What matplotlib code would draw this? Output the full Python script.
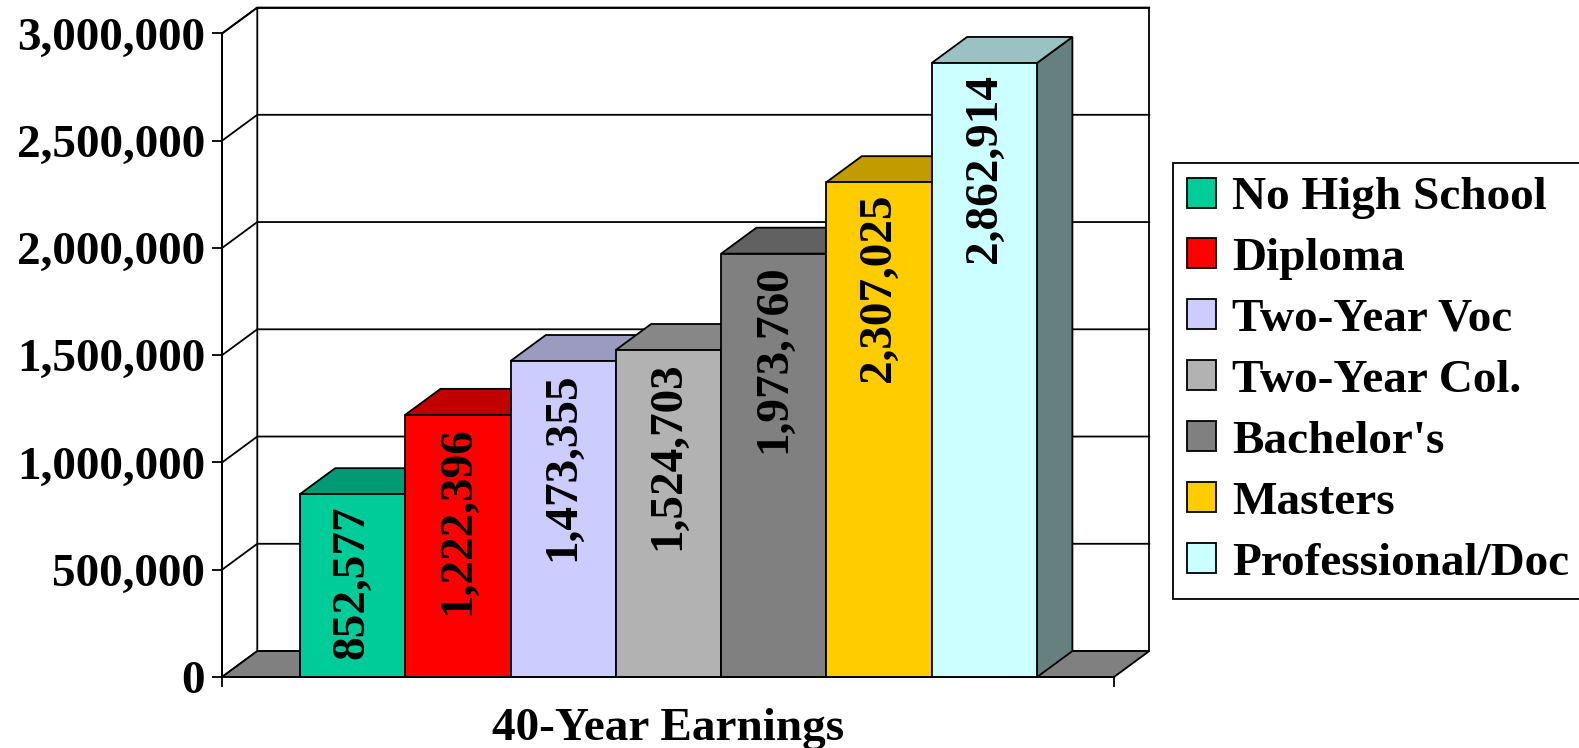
import matplotlib
matplotlib.use("Agg")
import matplotlib.pyplot as plt
from matplotlib.patches import Polygon, Rectangle, Patch
from matplotlib.ticker import FuncFormatter

# data
categories = ["No High School", "Diploma", "Two-Year Voc", "Two-Year Col.",
              "Bachelor's", "Masters", "Professional/Doc"]
earnings = [852577, 1222396, 1473355, 1524703, 1973760, 2307025, 2862914]
colors = ["#00CC99", "#FF0000", "#CCCCFF", "#B2B2B2", "#808080", "#FFCC00", "#CCFFFF"]
yticks = [0, 500000, 1000000, 1500000, 2000000, 2500000, 3000000]
xlabel = "40-Year Earnings"

plt.rcParams["font.family"] = ["Liberation Serif", "DejaVu Serif"]
plt.rcParams["font.weight"] = "bold"

W, H = 1579, 748
fig = plt.figure(figsize=(W / 100, H / 100), dpi=100)
ax = fig.add_axes([222 / W, 71 / H, 892 / W, 643.5 / H])

xmin, xmax = -0.74, 7.73
ymax = 3000000
DX, DY = 0.335, 121000  # depth of the 3-D box, in data units
lw = 1.3


def shade(c, f):
    r, g, b = matplotlib.colors.to_rgb(c)
    return (r * f, g * f, b * f)


# back wall, left wall, floor
ax.add_patch(Rectangle((xmin + DX, DY), xmax - xmin, ymax, facecolor="white",
                       edgecolor="black", lw=lw, clip_on=False, zorder=1))
ax.add_patch(Polygon([(xmin, 0), (xmin + DX, DY), (xmin + DX, ymax + DY), (xmin, ymax)],
                     facecolor="white", edgecolor="black", lw=lw, clip_on=False, zorder=1))
ax.add_patch(Polygon([(xmin, 0), (xmax, 0), (xmax + DX, DY), (xmin + DX, DY)],
                     facecolor="#808080", edgecolor="black", lw=lw, clip_on=False, zorder=2))

# gridlines on back and side walls
for t in yticks[1:]:
    ax.plot([xmin, xmin + DX, xmax + DX], [t, t + DY, t + DY], color="black",
            lw=lw, clip_on=False, zorder=2)

# bars
for i, (v, c) in enumerate(zip(earnings, colors)):
    z = 3 + i
    ax.add_patch(Polygon([(i + 1, 0), (i + 1 + DX, DY), (i + 1 + DX, v + DY), (i + 1, v)],
                         facecolor=shade(c, 0.5), edgecolor="black", lw=lw,
                         clip_on=False, zorder=z))
    ax.add_patch(Polygon([(i, v), (i + 1, v), (i + 1 + DX, v + DY), (i + DX, v + DY)],
                         facecolor=shade(c, 0.76), edgecolor="black", lw=lw,
                         clip_on=False, zorder=z))
    ax.add_patch(Rectangle((i, 0), 1, v, facecolor=c, edgecolor="black", lw=lw,
                           clip_on=False, zorder=z))
    ax.annotate(f"{v:,}", (i + 0.5, v), xytext=(0, -8), textcoords="offset points",
                rotation=90, ha="center", va="top", fontsize=34, fontweight="bold",
                zorder=20)

ax.set_xlim(xmin, xmax)
ax.set_ylim(0, ymax)
ax.set_yticks(yticks)
ax.yaxis.set_major_formatter(FuncFormatter(lambda v, p: f"{int(v):,}"))
ax.set_xticks([xmin, xmax])
ax.set_xticklabels(["", ""])
ax.tick_params(direction="out", length=7.2, width=lw, labelsize=34, pad=5)
for s in ["top", "right"]:
    ax.spines[s].set_visible(False)
for s in ["left", "bottom"]:
    ax.spines[s].set_linewidth(lw)
    ax.spines[s].set_zorder(30)
ax.set_facecolor("none")
ax.set_xlabel(xlabel, fontsize=34, fontweight="bold", labelpad=10)

handles = [Patch(facecolor=c, edgecolor="black", lw=lw) for c in colors]
fig.legend(handles, categories, loc="upper left", bbox_to_anchor=(1173 / W, 1 - 163 / H),
           borderaxespad=0, fancybox=False, edgecolor="black", framealpha=1,
           prop={"family": "Liberation Serif", "weight": "bold", "size": 34},
           handlelength=0.6, handleheight=0.6, handletextpad=0.35,
           labelspacing=0.4, borderpad=0.3)
fig.legends[0].get_frame().set_linewidth(lw)

fig.savefig("out.png", dpi=100)
